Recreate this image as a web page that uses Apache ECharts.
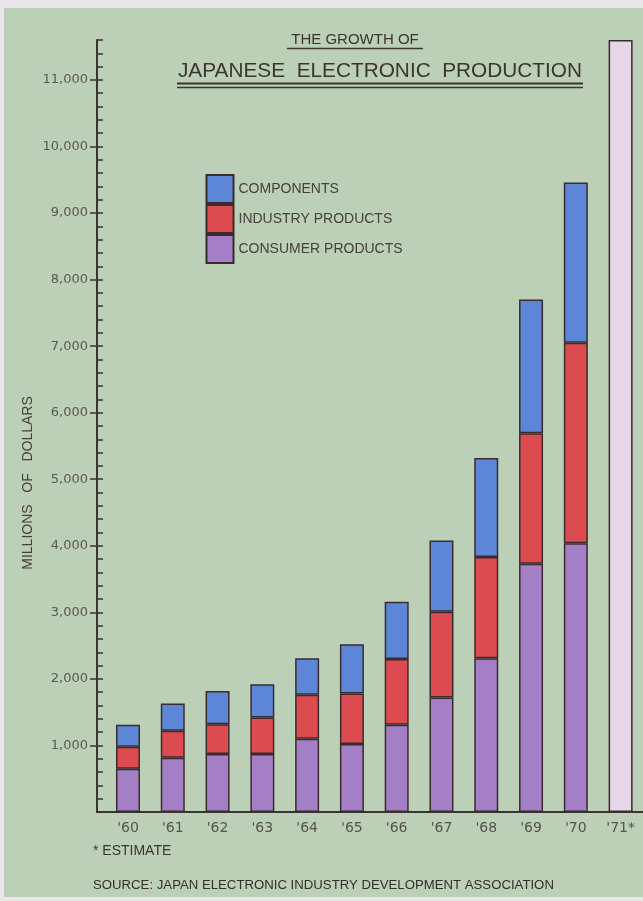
<!DOCTYPE html>
<html>
<head>
<meta charset="utf-8">
<script src="https://cdn.jsdelivr.net/npm/echarts@6/dist/echarts.min.js"></script>
<style>
  html, body { margin: 0; padding: 0; background: #e9e5eb; }
  #panel { position: absolute; left: 4px; top: 8px; width: 639px; height: 889px; background: #bccfb7; }
  #chart { position: absolute; left: 0; top: 0; width: 643px; height: 901px; }
</style>
</head>
<body>
<div id="panel"></div>
<div id="chart"></div>
<script>
  // years along the bottom
  var years = ["'60", "'61", "'62", "'63", "'64", "'65", "'66", "'67", "'68", "'69", "'70", "'71*"];
  // millions of dollars
  var consumer = [650, 815, 870, 870, 1100, 1020, 1310, 1720, 2310, 3730, 4040, '-'];
  var industry = [330, 405, 450, 550, 660, 760, 990, 1290, 1520, 1960, 3010, '-'];
  var components = [330, 410, 500, 500, 550, 740, 860, 1070, 1490, 2010, 2410, '-'];
  var estimate = ['-', '-', '-', '-', '-', '-', '-', '-', '-', '-', '-', 11600];
  // y axis tick labels
  var yTicks = [1000, 2000, 3000, 4000, 5000, 6000, 7000, 8000, 9000, 10000, 11000];

  var ink = '#3b3531';
  var edge = { borderColor: '#3a2c2e', borderWidth: 1.5 };

  var myChart = echarts.init(document.getElementById('chart'));
  myChart.setOption({
    backgroundColor: 'transparent',
    animation: false,
    grid: [
      { left: 105.6, right: 0, top: 40, bottom: 89 },
      { left: 97, right: 0, top: 40, bottom: 89 }
    ],
    legend: {
      data: ['COMPONENTS', 'INDUSTRY PRODUCTS', 'CONSUMER PRODUCTS'],
      orient: 'vertical',
      left: 200.5,
      top: 169,
      itemWidth: 27,
      itemHeight: 28,
      itemGap: 0,
      icon: 'rect',
      textStyle: {
        fontFamily: 'Liberation Sans',
        fontSize: 14,
        color: '#45413c',
        padding: [0, 0, 0, 0]
      }
    },
    xAxis: [{
      gridIndex: 0,
      type: 'category',
      data: years,
      axisLine: { show: false },
      axisTick: { show: false },
      axisLabel: {
        fontFamily: 'DejaVu Sans',
        fontSize: 14,
        color: '#55534f',
        margin: 9
      }
    }, {
      gridIndex: 1,
      type: 'value',
      min: 0,
      max: 1,
      axisLine: { show: true, lineStyle: { color: ink, width: 2 } },
      axisTick: { show: false },
      axisLabel: { show: false },
      splitLine: { show: false }
    }],
    yAxis: [{
      gridIndex: 0,
      type: 'value',
      min: 0,
      max: 11600,
      show: false
    }, {
      // main axis: labels and crossing major ticks
      gridIndex: 1,
      type: 'value',
      position: 'left',
      min: 0,
      max: 11600,
      interval: 1000,
      axisLine: { show: true, lineStyle: { color: ink, width: 2 } },
      axisTick: {
        show: true,
        length: 7,
        customValues: yTicks,
        lineStyle: { color: ink, width: 1.5 }
      },
      axisLabel: {
        customValues: yTicks,
        fontFamily: 'DejaVu Sans',
        fontSize: 13,
        color: '#5a5852',
        margin: 9,
        formatter: function (v) {
          return v.toLocaleString('en-US');
        }
      },
      splitLine: { show: false }
    }, {
      // minor ticks every 200 on the inside
      gridIndex: 1,
      type: 'value',
      position: 'left',
      min: 0,
      max: 11600,
      interval: 200,
      axisLine: { show: false },
      axisTick: { show: true, inside: true, length: 6, lineStyle: { color: ink, width: 1.5 } },
      axisLabel: { show: false },
      splitLine: { show: false }
    }],
    series: [{
      name: 'CONSUMER PRODUCTS',
      type: 'bar',
      stack: 'total',
      barWidth: 24,
      data: consumer,
      itemStyle: Object.assign({ color: '#a47fc6' }, edge)
    }, {
      name: 'INDUSTRY PRODUCTS',
      type: 'bar',
      stack: 'total',
      barWidth: 24,
      data: industry,
      itemStyle: Object.assign({ color: '#dc4b4f' }, edge)
    }, {
      name: 'COMPONENTS',
      type: 'bar',
      stack: 'total',
      barWidth: 24,
      data: components,
      itemStyle: Object.assign({ color: '#5d86d6' }, edge)
    }, {
      name: 'ESTIMATE',
      type: 'bar',
      stack: 'total',
      barWidth: 25,
      data: estimate,
      itemStyle: Object.assign({ color: '#e5d6e8' }, edge)
    }],
    graphic: [
      {
        type: 'text', x: 355, y: 40,
        style: {
          text: 'THE GROWTH OF', fill: ink, align: 'center', verticalAlign: 'middle',
          font: '15px "Liberation Sans"'
        }
      },
      {
        type: 'line', shape: { x1: 287, y1: 48.5, x2: 423, y2: 48.5 },
        style: { stroke: ink, lineWidth: 1.5 }
      },
      {
        type: 'text', x: 380, y: 71,
        style: {
          text: 'JAPANESE  ELECTRONIC  PRODUCTION', fill: ink, align: 'center', verticalAlign: 'middle',
          font: '20.8px "Liberation Sans"'
        }
      },
      {
        type: 'line', shape: { x1: 177, y1: 83.5, x2: 583, y2: 83.5 },
        style: { stroke: ink, lineWidth: 2 }
      },
      {
        type: 'line', shape: { x1: 177, y1: 87.5, x2: 583, y2: 87.5 },
        style: { stroke: ink, lineWidth: 1.5 }
      },
      {
        type: 'text', x: 28, y: 483, rotation: Math.PI / 2,
        style: {
          text: 'MILLIONS   OF   DOLLARS', fill: '#45413c', align: 'center', verticalAlign: 'middle',
          font: '14px "Liberation Sans"'
        }
      },
      {
        type: 'text', x: 93, y: 851,
        style: {
          text: '* ESTIMATE', fill: ink, align: 'left', verticalAlign: 'middle',
          font: '14px "Liberation Sans"'
        }
      },
      {
        type: 'text', x: 93, y: 885,
        style: {
          text: 'SOURCE: JAPAN ELECTRONIC INDUSTRY DEVELOPMENT ASSOCIATION', fill: '#33302c',
          align: 'left', verticalAlign: 'middle',
          font: '13.2px "Liberation Sans"'
        }
      }
    ]
  });
</script>
</body>
</html>
